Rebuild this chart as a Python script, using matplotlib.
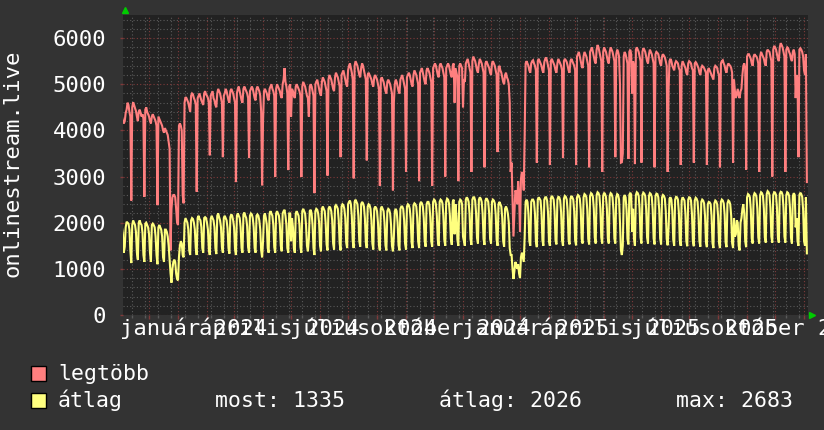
import numpy as np
import pandas as pd
import matplotlib
matplotlib.use("Agg")
import matplotlib.pyplot as plt
from matplotlib.lines import Line2D
from matplotlib.patches import Rectangle

plt.rcParams['font.family'] = ['DejaVu Sans Mono']

# ---------------- data (daily, starting Monday 2023-10-30) ----------------
start_date = "2023-10-30"

legtobb = [
    4300, 4350, 4250, 4300, 4200, 4150, 4200,
    4380, 4450, 4600, 4550, 4400, 4300, 2480,
    4500, 4610, 4550, 4480, 4420, 4300, 4200,
    4400, 4450, 4380, 4300, 4350, 4250, 2560,
    4450, 4500, 4400, 4350, 4300, 4200, 4150,
    4300, 4350, 4300, 4250, 4200, 4100, 2380,
    4300, 4250, 4200, 4150, 4100, 4000, 3950,
    4050, 4000, 3950, 3900, 3750, 3600, 1400,
    2300, 2550, 2600, 2600, 2550, 2300, 2000,
    1950, 4100, 4150, 4100, 4000, 2600, 2420,
    4600, 4720, 4700, 4650, 4600, 4500, 4400,
    4750, 4800, 4780, 4700, 4650, 4550, 2670,
    4700, 4750, 4800, 4720, 4650, 4600, 4550,
    4800, 4850, 4780, 4750, 4700, 4600, 3460,
    4750, 4800, 4850, 4700, 4650, 4550, 4500,
    4800, 4900, 4850, 4800, 4700, 4600, 3420,
    4750, 4800, 4900, 4850, 4750, 4650, 4600,
    4850, 4900, 4850, 4800, 4700, 4600, 2880,
    4800, 4900, 4950, 4850, 4750, 4650, 4600,
    4900, 4950, 4900, 4850, 4800, 4700, 3400,
    4850, 4900, 4950, 4900, 4800, 4700, 4650,
    4900, 4950, 4900, 4850, 4750, 4400, 2810,
    4200, 4850, 4900, 4850, 4800, 4700, 4650,
    4900, 4950, 5000, 4900, 4850, 4750, 2990,
    4900, 5000, 4950, 4900, 4850, 4750, 4700,
    5000, 5100, 5350, 5050, 4950, 4800, 3140,
    4950, 5000, 4300, 4900, 4850, 4750, 4700,
    4950, 5000, 4950, 4900, 4850, 4750, 2990,
    4950, 5050, 5000, 4950, 4850, 4750, 4700,
    4300, 4950, 5000, 4950, 4850, 4750, 2640,
    5000, 5050, 5100, 5000, 4900, 4800, 4750,
    5050, 5150, 5100, 5050, 4950, 4850, 3020,
    5100, 5200, 5150, 5100, 5000, 4900, 4850,
    5150, 5250, 5200, 5150, 5050, 4950, 3420,
    5200, 5250, 5300, 5200, 5100, 5000, 4950,
    5300, 5400, 5450, 5350, 5250, 5100, 2960,
    5400, 5500, 5450, 5400, 5300, 5200, 5150,
    5350, 5450, 5400, 5300, 5200, 5100, 3350,
    5200, 5250, 5200, 5150, 5100, 5000, 4950,
    5150, 5200, 5150, 5100, 5000, 4900, 2800,
    5100, 5150, 5100, 5050, 4950, 4850, 4800,
    5050, 5100, 5050, 5000, 4900, 4800, 2700,
    4600, 5000, 5100, 5050, 4950, 4850, 4800,
    5100, 5150, 5200, 5100, 5000, 4900, 3100,
    5150, 5200, 5250, 5200, 5100, 5000, 4950,
    5200, 5300, 5250, 5200, 5100, 5000, 2900,
    5250, 5300, 5350, 5250, 5150, 5050, 5000,
    5300, 5350, 5300, 5250, 5150, 5050, 2800,
    5350, 5400, 5450, 5400, 5300, 5200, 5150,
    5400, 5450, 5400, 5350, 5250, 5150, 3000,
    5350, 5400, 5450, 5400, 5300, 5200, 5150,
    5400, 5450, 4600, 5350, 5250, 5150, 2900,
    5400, 5450, 5400, 5350, 4500, 5100, 5050,
    5450, 5500, 5550, 5450, 5350, 5250, 3100,
    5500, 5600, 5550, 5500, 5400, 5300, 5250,
    5450, 5550, 5500, 5450, 5350, 5250, 3200,
    5450, 5500, 5450, 5400, 5350, 5250, 5200,
    5450, 5500, 5450, 5400, 5300, 5200, 3530,
    5350, 5400, 5300, 5250, 5150, 5050, 5000,
    5200, 5250, 5150, 5100, 5000, 4600, 3100,
    3300, 2500, 1700, 2200, 2700, 2650, 2400,
    2900, 2600, 1800, 2950, 3100, 3000, 2700,
    3900, 5450, 5500, 5450, 5400, 5300, 5250,
    5450, 5500, 5520, 5450, 5400, 5300, 3300,
    5500, 5550, 5500, 5450, 5400, 5300, 5250,
    5480, 5550, 5580, 5500, 5400, 5300, 3250,
    5500, 5550, 5500, 5450, 5400, 5300, 5250,
    5450, 5550, 5500, 5450, 5400, 5300, 3400,
    5500, 5550, 5520, 5480, 5400, 5300, 5250,
    5500, 5550, 5500, 5450, 5400, 5300, 3250,
    5600, 5650, 5700, 5600, 5500, 5400, 5350,
    5600, 5700, 5650, 5600, 5500, 5400, 3200,
    5700, 5750, 5800, 5700, 5600, 5500, 5450,
    5750, 5850, 5800, 5700, 5600, 5500, 3100,
    5700, 5800, 5750, 5700, 5600, 5500, 5450,
    5700, 5800, 5750, 5700, 5600, 5500, 3420,
    5650, 5750, 5700, 5600, 5000, 3300, 3310,
    3500, 5600, 5700, 5650, 5550, 5450, 3380,
    5700, 5750, 5650, 4800, 5500, 5400, 3270,
    5750, 5800, 5750, 5700, 5600, 5500, 3300,
    5700, 5780, 5750, 5700, 5600, 5500, 5450,
    5650, 5750, 5700, 5650, 5550, 5450, 3200,
    5650, 5700, 5680, 5650, 5550, 5450, 5400,
    5600, 5650, 5620, 5580, 5500, 5400, 3100,
    4900, 5500, 5550, 5500, 5400, 5350, 5300,
    5450, 5500, 5480, 5450, 5350, 5300, 3250,
    5400, 5500, 5450, 5400, 5350, 5250, 5200,
    5450, 5500, 5480, 5450, 5350, 5300, 3300,
    5450, 5480, 5450, 5400, 5350, 5250, 5200,
    5350, 5400, 5380, 5350, 5300, 5250, 3250,
    5300, 5350, 5300, 5250, 5200, 5150, 5100,
    5350, 5400, 5380, 5350, 5250, 5200, 3200,
    5450, 5500, 5520, 5450, 5400, 5300, 5250,
    5400, 5450, 5420, 5400, 5350, 5250, 3300,
    5100, 4850, 4700, 4800, 4900, 4750, 4700,
    4850, 4900, 5200, 5400, 5450, 5350, 3150,
    5600, 5650, 5650, 5600, 5550, 5450, 5400,
    5600, 5650, 5620, 5600, 5550, 5450, 3100,
    5600, 5700, 5650, 5600, 5550, 5450, 5400,
    5700, 5750, 5720, 5700, 5600, 5500, 3000,
    5750, 5830, 5800, 5750, 5650, 5550, 5500,
    5800, 5890, 5850, 5800, 5700, 5600, 3100,
    5750, 5800, 5780, 5700, 5650, 5550, 5500,
    5700, 5750, 5650, 4700, 5200, 5100, 3420,
    5750, 5780, 5750, 5700, 5600, 5300, 5200,
    5650, 2880,
]

atlag = [
    1950, 2000, 1950, 1900, 1750, 1350, 1480,
    1900, 2020, 2000, 1980, 1850, 1400, 1125,
    1950, 2050, 2000, 1950, 1800, 1350, 1200,
    2000, 2050, 1980, 1950, 1780, 1300, 1150,
    1980, 2000, 1950, 1900, 1750, 1350, 1150,
    1950, 1980, 1950, 1900, 1700, 1300, 1100,
    1900, 1950, 1900, 1850, 1700, 1250, 1150,
    1850, 1850, 1800, 1700, 1500, 1200, 900,
    700, 1000, 1150, 1200, 1150, 900, 780,
    750, 1250, 1500, 1600, 1550, 1300, 1250,
    2000, 2100, 2050, 2000, 1850, 1400, 1300,
    2050, 2100, 2080, 2000, 1850, 1450, 1300,
    2100, 2150, 2080, 2050, 1900, 1450, 1350,
    2100, 2120, 2100, 2000, 1850, 1430, 1300,
    2080, 2150, 2100, 2050, 1900, 1450, 1320,
    2150, 2200, 2120, 2050, 1900, 1470, 1350,
    2100, 2150, 2100, 2050, 1880, 1450, 1330,
    2120, 2180, 2150, 2050, 1900, 1430, 1300,
    2150, 2200, 2150, 2100, 1900, 1450, 1350,
    2180, 2220, 2150, 2100, 1920, 1470, 1350,
    2150, 2200, 2180, 2100, 1900, 1450, 1350,
    2150, 2180, 2150, 2050, 1850, 1400, 1250,
    1600, 2150, 2200, 2100, 1950, 1450, 1350,
    2200, 2250, 2200, 2150, 1950, 1470, 1350,
    2200, 2250, 2200, 2150, 1950, 1500, 1380,
    2200, 2250, 2280, 2150, 1950, 1450, 1350,
    2200, 2200, 1600, 2100, 1900, 1450, 1350,
    2200, 2250, 2200, 2150, 1950, 1470, 1350,
    2250, 2300, 2250, 2200, 1950, 1500, 1380,
    1650, 2250, 2280, 2200, 1950, 1450, 1300,
    2250, 2300, 2280, 2200, 2000, 1500, 1380,
    2300, 2350, 2300, 2250, 2000, 1530, 1400,
    2300, 2350, 2320, 2250, 2050, 1550, 1420,
    2350, 2380, 2350, 2300, 2050, 1550, 1400,
    2350, 2400, 2380, 2300, 2100, 1570, 1450,
    2400, 2450, 2480, 2400, 2150, 1600, 1450,
    2450, 2500, 2450, 2400, 2150, 1600, 1480,
    2400, 2450, 2420, 2350, 2100, 1570, 1450,
    2350, 2400, 2380, 2300, 2050, 1550, 1420,
    2300, 2350, 2320, 2250, 2000, 1530, 1400,
    2300, 2350, 2300, 2250, 2000, 1510, 1400,
    2250, 2300, 2280, 2200, 1950, 1500, 1380,
    1700, 2250, 2300, 2250, 2000, 1510, 1400,
    2300, 2350, 2350, 2300, 2050, 1550, 1420,
    2350, 2400, 2380, 2300, 2080, 1570, 1450,
    2380, 2420, 2400, 2350, 2100, 1600, 1450,
    2400, 2450, 2420, 2350, 2100, 1600, 1480,
    2400, 2450, 2450, 2380, 2120, 1600, 1480,
    2450, 2500, 2480, 2400, 2150, 1630, 1500,
    2450, 2500, 2480, 2420, 2150, 1630, 1500,
    2450, 2520, 2500, 2420, 2150, 1650, 1520,
    2450, 2500, 1750, 2400, 2150, 1630, 1500,
    2450, 2500, 2480, 2400, 1700, 1600, 1500,
    2500, 2550, 2520, 2450, 2200, 1650, 1520,
    2500, 2550, 2550, 2480, 2200, 1670, 1550,
    2500, 2550, 2520, 2450, 2200, 1650, 1520,
    2480, 2530, 2500, 2450, 2200, 1650, 1550,
    2450, 2500, 2480, 2420, 2180, 1630, 1500,
    2400, 2450, 2400, 2350, 2100, 1600, 1480,
    2300, 2350, 2300, 2200, 2000, 1450, 1300,
    1300, 1000, 780, 950, 1150, 1100, 1000,
    1100, 900, 800, 1250, 1350, 1250, 1150,
    1700, 2450, 2500, 2450, 2200, 1600, 1500,
    2450, 2500, 2500, 2450, 2200, 1600, 1470,
    2500, 2550, 2520, 2480, 2220, 1620, 1500,
    2500, 2550, 2550, 2480, 2220, 1600, 1500,
    2520, 2580, 2550, 2500, 2250, 1620, 1530,
    2500, 2560, 2550, 2480, 2220, 1620, 1500,
    2520, 2580, 2560, 2500, 2250, 1630, 1530,
    2520, 2580, 2550, 2500, 2250, 1620, 1510,
    2550, 2600, 2580, 2520, 2280, 1650, 1550,
    2550, 2620, 2600, 2550, 2280, 1650, 1530,
    2580, 2640, 2620, 2560, 2300, 1680, 1550,
    2600, 2660, 2640, 2580, 2300, 1680, 1550,
    2580, 2650, 2620, 2560, 2300, 1660, 1550,
    2580, 2640, 2620, 2550, 2280, 1660, 1550,
    2550, 2620, 2600, 2500, 2000, 1400, 1300,
    1500, 2550, 2600, 2550, 2280, 1650, 1530,
    2600, 2650, 2600, 1800, 2300, 1650, 1500,
    2600, 2660, 2640, 2580, 2300, 1680, 1550,
    2600, 2650, 2630, 2580, 2300, 1680, 1550,
    2580, 2640, 2620, 2560, 2280, 1660, 1530,
    2580, 2630, 2620, 2550, 2280, 1660, 1530,
    2550, 2600, 2580, 2520, 2250, 1650, 1510,
    1900, 2520, 2550, 2500, 2250, 1630, 1500,
    2500, 2560, 2550, 2500, 2220, 1620, 1500,
    2480, 2550, 2520, 2480, 2200, 1600, 1490,
    2500, 2550, 2540, 2480, 2200, 1600, 1490,
    2480, 2540, 2520, 2460, 2180, 1600, 1480,
    2450, 2500, 2480, 2420, 2150, 1580, 1470,
    2400, 2450, 2440, 2400, 2150, 1560, 1450,
    2420, 2480, 2460, 2400, 2150, 1560, 1450,
    2450, 2500, 2480, 2420, 2180, 1580, 1470,
    2420, 2480, 2460, 2400, 2150, 1560, 1450,
    2100, 1700, 1750, 2050, 2000, 1500, 1400,
    2000, 2100, 2300, 2400, 2200, 1600, 1470,
    2550, 2620, 2600, 2550, 2280, 1660, 1550,
    2580, 2640, 2620, 2560, 2300, 1680, 1550,
    2600, 2660, 2640, 2580, 2300, 1680, 1570,
    2620, 2683, 2660, 2600, 2320, 1700, 1570,
    2600, 2660, 2650, 2600, 2320, 1680, 1570,
    2620, 2670, 2660, 2600, 2320, 1700, 1570,
    2600, 2660, 2640, 2580, 2300, 1680, 1550,
    2580, 2640, 2600, 1900, 2100, 1600, 1500,
    2600, 2650, 2620, 2560, 2280, 1600, 1500,
    2550, 1335,
]

y_ticks = [0, 1000, 2000, 3000, 4000, 5000, 6000]
x_label_months = ["2024-01-01", "2024-04-01", "2024-07-01", "2024-10-01",
                  "2025-01-01", "2025-04-01", "2025-07-01", "2025-10-01"]
x_labels = ["január 2024", "április 2024", "július 2024", "október 2024",
            "január 2025", "április 2025", "július 2025", "október 2025"]
series_names = ["legtöbb", "átlag"]
stat_texts = ["most: 1335", "átlag: 2026", "max: 2683"]
y_axis_title = "onlinestream.live"

# ---------------- styling ----------------
W, H = 824, 430
BG = "#333333"
PLOT_BG = "#222222"
RED = "#ff7f7f"
YEL = "#ffff7f"
TXT = "#ffffff"
MINOR = "#5a5a5a"
MAJOR = "#7f3a3a"
ARROW = "#00cc00"

fig = plt.figure(figsize=(W / 100, H / 100), dpi=100, facecolor=BG)
L, R, T, B = 123, 808, 15, 315
ax = fig.add_axes([L / W, 1 - B / H, (R - L) / W, (B - T) / H])
ax.set_facecolor(PLOT_BG)

dates = pd.date_range(start_date, periods=len(legtobb), freq="D")
ax.plot(dates, legtobb, color=RED, lw=1.5, solid_joinstyle="miter", zorder=3)
ax.plot(dates, atlag, color=YEL, lw=1.5, solid_joinstyle="miter", zorder=3)

# grid ticks (set before limits, since set_xticks may widen the view)
month_ticks = pd.date_range("2023-11-01", "2025-11-30", freq="MS")
biweek_ticks = pd.date_range("2023-10-30", "2025-11-30", freq="14D")
ax.set_xticks(month_ticks)
ax.set_xticks(biweek_ticks, minor=True)
ax.set_xticklabels([])
ax.set_yticks(y_ticks)
ax.set_yticks(np.arange(0, 6501, 200), minor=True)
ax.set_yticklabels([str(v) for v in y_ticks])

ax.set_xlim(pd.Timestamp("2023-11-03 03:00"), pd.Timestamp("2025-11-05 05:00"))
ax.set_ylim(0, 6500)

dots = (0, (1, 2))
ax.grid(which="minor", color=MINOR, linestyle=dots, linewidth=0.8, zorder=1)
ax.grid(which="major", color=MAJOR, linestyle=dots, linewidth=0.8, zorder=2)
ax.set_axisbelow(True)

ax.tick_params(axis="x", which="major", length=3, color=MAJOR, width=1, direction="out")
ax.tick_params(axis="x", which="minor", length=2, color=MINOR, width=1, direction="out")
ax.tick_params(axis="y", which="major", length=2, color=MAJOR, width=1,
               labelsize=16, labelcolor=TXT, pad=10)
ax.tick_params(axis="y", which="minor", length=0)
for s in ax.spines.values():
    s.set_visible(False)

# x labels (rrdtool style, centered a fixed offset after quarter start)
for m, lab in zip(x_label_months, x_labels):
    xc = pd.Timestamp(m) + pd.Timedelta(days=17)
    t = ax.text(xc, 0, lab, transform=ax.get_xaxis_transform(), ha="center",
                va="baseline", fontsize=16, color=TXT, clip_on=False)
    t.set_y(-20 / (B - T))

# y axis title
fig.text(13 / W, 1 - 163 / H, y_axis_title, rotation=90, ha="center", va="center",
         fontsize=16, color=TXT)

# arrows
fig.add_artist(Line2D([125 / W], [1 - 10 / H], marker="^", markersize=5,
                      color=ARROW, transform=fig.transFigure))
fig.add_artist(Line2D([812 / W], [1 - 315 / H], marker=">", markersize=5,
                      color=ARROW, transform=fig.transFigure))

# legend
for i, (name, col) in enumerate(zip(series_names, [RED, YEL])):
    ytop = 366 + i * 27
    fig.add_artist(Rectangle((31 / W, 1 - (ytop + 15) / H), 15 / W, 15 / H,
                             facecolor=col, edgecolor="#000000", lw=1,
                             transform=fig.transFigure))
    fig.text(58 / W, 1 - (ytop + 14) / H, name, fontsize=15.5, color=TXT,
             ha="left", va="baseline")

for txt, xs in zip(stat_texts, [215, 439, 676]):
    fig.text(xs / W, 1 - 407 / H, txt, fontsize=15.5, color=TXT,
             ha="left", va="baseline")

fig.savefig("out.png", dpi=100, facecolor=BG)
